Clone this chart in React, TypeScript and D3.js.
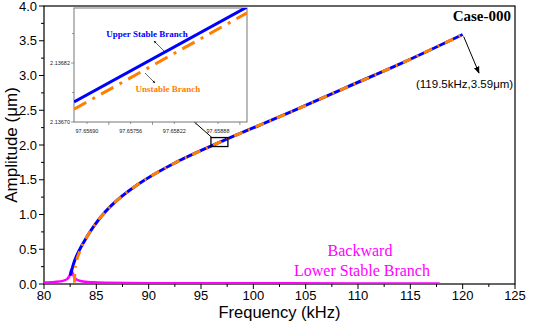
import React from "react";
import * as d3 from "d3";

// ---- data ----
const upperFreq = [82.5, 82.62, 82.8, 83.1, 83.6, 84.7, 86.3, 88.85, 92.35, 96.8, 103.8, 108.9, 114.5, 120.0];
const upperAmp = [0.12, 0.18, 0.28, 0.4, 0.55, 0.82, 1.11, 1.42, 1.73, 2.04, 2.49, 2.83, 3.2, 3.59];

const unstableFreq = [82.95, 82.92, 82.93, 83.0, 83.2, 83.75, 84.7, 86.3, 88.85, 92.35, 96.8, 103.8, 108.9, 114.5, 120.0];
const unstableAmp = [0.02, 0.05, 0.12, 0.25, 0.38, 0.58, 0.82, 1.11, 1.42, 1.73, 2.04, 2.49, 2.83, 3.2, 3.59];

const lowerFreq = [80, 81, 81.8, 82.2, 82.45, 82.6, 82.7, 82.85, 83.1, 83.6, 84.6, 86, 90, 100, 110, 117.8];
const lowerAmp = [0.02, 0.03, 0.045, 0.07, 0.12, 0.21, 0.17, 0.11, 0.065, 0.04, 0.025, 0.018, 0.012, 0.01, 0.008, 0.007];

const xTicks = [80, 85, 90, 95, 100, 105, 110, 115, 120, 125];
const yTicks = [0, 0.5, 1, 1.5, 2, 2.5, 3, 3.5, 4];

// inset (zoomed) data
const insetXDomain = [97.656704, 97.659318];
const insetYDomain = [2.1367, 2.136932];
const insetXTicks = [97.6569, 97.65756, 97.65822, 97.65888];
const insetYTicks = [2.1367, 2.13682];
const insetUpperX = [97.656704, 97.659318];
const insetUpperY = [2.136741, 2.136934];
const insetUnstableX = [97.656704, 97.659318];
const insetUnstableY = [2.136726, 2.136922];

// annotation anchors (data units)
const endPoint = { f: 120.0, a: 3.59 };
const zoomBox = { f0: 95.95, f1: 97.57, a0: 1.978, a1: 2.107 };

const BLUE = "#0000ff";
const ORANGE = "#ff8000";
const MAGENTA = "#ff00ff";
const SANS = "Liberation Sans, Arial, sans-serif";
const SERIF = "Liberation Serif, Times New Roman, serif";

export default function App() {
  const W = 533, H = 322;
  const left = 44, right = 515, top = 6, bottom = 284;
  const x = d3.scaleLinear().domain([80, 125]).range([left, right]);
  const y = d3.scaleLinear().domain([0, 4]).range([bottom, top]);

  const line = d3
    .line<[number, number]>()
    .x((d) => x(d[0]))
    .y((d) => y(d[1]))
    .curve(d3.curveCatmullRom.alpha(0.5));

  const zip = (a: number[], b: number[]) => a.map((v, i) => [v, b[i]] as [number, number]);

  const minorX = d3.range(80, 125.01, 2.5);
  const minorY = d3.range(0, 4.01, 0.25);

  // inset layout
  const iL = 74, iR = 247, iT = 8, iB = 122;
  const ix = d3.scaleLinear().domain(insetXDomain).range([iL, iR]);
  const iy = d3.scaleLinear().domain(insetYDomain).range([iB, iT]);
  const iMinorX = d3.range(0, 9).map((i) => 97.65657 + i * 0.00033);
  const iMinorY = [2.1367, 2.13676, 2.13682, 2.13688];
  const iline = d3.line<[number, number]>().x((d) => ix(d[0])).y((d) => iy(d[1]));

  return (
    <svg width={W} height={H} style={{ position: "absolute", left: 0, top: 0, background: "#fff" }}>
      <defs>
        <marker id="ah" viewBox="0 0 10 10" refX="9" refY="5" markerWidth="7" markerHeight="7" orient="auto">
          <path d="M0,1 L10,5 L0,9 Z" fill="#000" />
        </marker>
        <marker id="ahs" viewBox="0 0 10 10" refX="9" refY="5" markerWidth="5" markerHeight="5" orient="auto">
          <path d="M0,1 L10,5 L0,9 Z" fill="#000" />
        </marker>
        <clipPath id="plotclip">
          <rect x={left} y={top} width={right - left} height={bottom - top} />
        </clipPath>
        <clipPath id="insetclip">
          <rect x={iL} y={iT} width={iR - iL} height={iB - iT} />
        </clipPath>
      </defs>

      {/* frame */}
      <rect x={left} y={top} width={right - left} height={bottom - top} fill="none" stroke="#000" strokeWidth={1.2} />

      {/* x axis ticks */}
      {minorX.map((v) => (
        <line key={"mx" + v} x1={x(v)} x2={x(v)} y1={bottom} y2={bottom + (v % 5 === 0 ? 5 : 3)} stroke="#000" strokeWidth={1} />
      ))}
      {xTicks.map((v) => (
        <text key={"xt" + v} x={x(v)} y={bottom + 16} fontSize={13} fontFamily={SANS} textAnchor="middle">
          {v}
        </text>
      ))}
      {/* y axis ticks */}
      {minorY.map((v) => (
        <line key={"my" + v} x1={left} x2={left - (Math.abs(v * 2 - Math.round(v * 2)) < 1e-6 ? 5 : 3)} y1={y(v)} y2={y(v)} stroke="#000" strokeWidth={1} />
      ))}
      {yTicks.map((v) => (
        <text key={"yt" + v} x={left - 7} y={y(v) + 4.5} fontSize={13} fontFamily={SANS} textAnchor="end">
          {v.toFixed(1)}
        </text>
      ))}

      <text x={(left + right) / 2} y={318} fontSize={16.5} fontFamily={SANS} textAnchor="middle">
        Frequency (kHz)
      </text>
      <text transform={`translate(17,${(top + bottom) / 2}) rotate(-90)`} fontSize={17} fontFamily={SANS} textAnchor="middle">
        Amplitude (μm)
      </text>

      {/* curves */}
      <g clipPath="url(#plotclip)">
        <path d={line(zip(lowerFreq, lowerAmp)) || ""} fill="none" stroke={MAGENTA} strokeWidth={2.5} />
        <path d={line(zip(upperFreq, upperAmp)) || ""} fill="none" stroke={BLUE} strokeWidth={3} />
        <path d={line(zip(unstableFreq, unstableAmp)) || ""} fill="none" stroke={ORANGE} strokeWidth={3} strokeDasharray="9,6,2,6" />
      </g>

      {/* zoom box and arrow */}
      <rect
        x={x(zoomBox.f0)}
        y={y(zoomBox.a1)}
        width={x(zoomBox.f1) - x(zoomBox.f0)}
        height={y(zoomBox.a0) - y(zoomBox.a1)}
        fill="none"
        stroke="#000"
        strokeWidth={1.3}
      />
      <line x1={x(zoomBox.f0) + 1} y1={y(zoomBox.a1)} x2={183} y2={112} stroke="#000" strokeWidth={1} markerEnd="url(#ah)" />

      {/* end point annotation */}
      <line x1={x(endPoint.f) + 1} y1={y(endPoint.a) + 2} x2={479} y2={73} stroke="#000" strokeWidth={1} markerEnd="url(#ah)" />
      <text x={416} y={88} fontSize={11.5} fontFamily={SANS}>
        (119.5kHz,3.59μm)
      </text>

      <text x={511} y={21} fontSize={15} fontWeight="bold" fontFamily={SERIF} textAnchor="end">
        Case-000
      </text>

      <text x={360} y={256} fontSize={16} fontFamily={SERIF} fill={MAGENTA} textAnchor="middle">
        Backward
      </text>
      <text x={362} y={276} fontSize={16} fontFamily={SERIF} fill={MAGENTA} textAnchor="middle">
        Lower Stable Branch
      </text>

      {/* inset */}
      <rect x={iL} y={iT} width={iR - iL} height={iB - iT} fill="#fff" stroke="#777" strokeWidth={1} />
      {iMinorX.filter((v) => ix(v) >= iL && ix(v) <= iR).map((v, i) => (
        <line key={"imx" + i} x1={ix(v)} x2={ix(v)} y1={iB} y2={iB + (i % 2 === 1 ? 3 : 2)} stroke="#555" strokeWidth={0.6} />
      ))}
      {insetXTicks.map((v) => (
        <text key={"ixt" + v} x={ix(v)} y={iB + 11} fontSize={5.5} fontFamily={SANS} textAnchor="middle" fill="#222">
          {v.toFixed(5)}
        </text>
      ))}
      {iMinorY.map((v, i) => (
        <line key={"imy" + i} x1={iL} x2={iL - (i % 2 === 0 ? 3 : 2)} y1={iy(v)} y2={iy(v)} stroke="#555" strokeWidth={0.6} />
      ))}
      {insetYTicks.map((v) => (
        <text key={"iyt" + v} x={iL - 4} y={iy(v) + 2} fontSize={5.5} fontFamily={SANS} textAnchor="end" fill="#222">
          {v.toFixed(5)}
        </text>
      ))}
      <g clipPath="url(#insetclip)">
        <path d={iline(zip(insetUpperX, insetUpperY)) || ""} fill="none" stroke={BLUE} strokeWidth={3} />
        <path d={iline(zip(insetUnstableX, insetUnstableY)) || ""} fill="none" stroke={ORANGE} strokeWidth={3} strokeDasharray="14,7,3,7" />
      </g>
      <text x={147} y={37} fontSize={9} fontWeight="bold" fontFamily={SERIF} fill={BLUE} textAnchor="middle">
        Upper Stable Branch
      </text>
      <line x1={165} y1={52} x2={154} y2={41} stroke="#000" strokeWidth={0.6} markerEnd="url(#ahs)" />
      <text x={168} y={92} fontSize={9} fontWeight="bold" fontFamily={SERIF} fill={ORANGE} textAnchor="middle">
        Unstable Branch
      </text>
      <line x1={145} y1={73} x2={155} y2={83} stroke="#000" strokeWidth={0.6} markerEnd="url(#ahs)" />
    </svg>
  );
}
